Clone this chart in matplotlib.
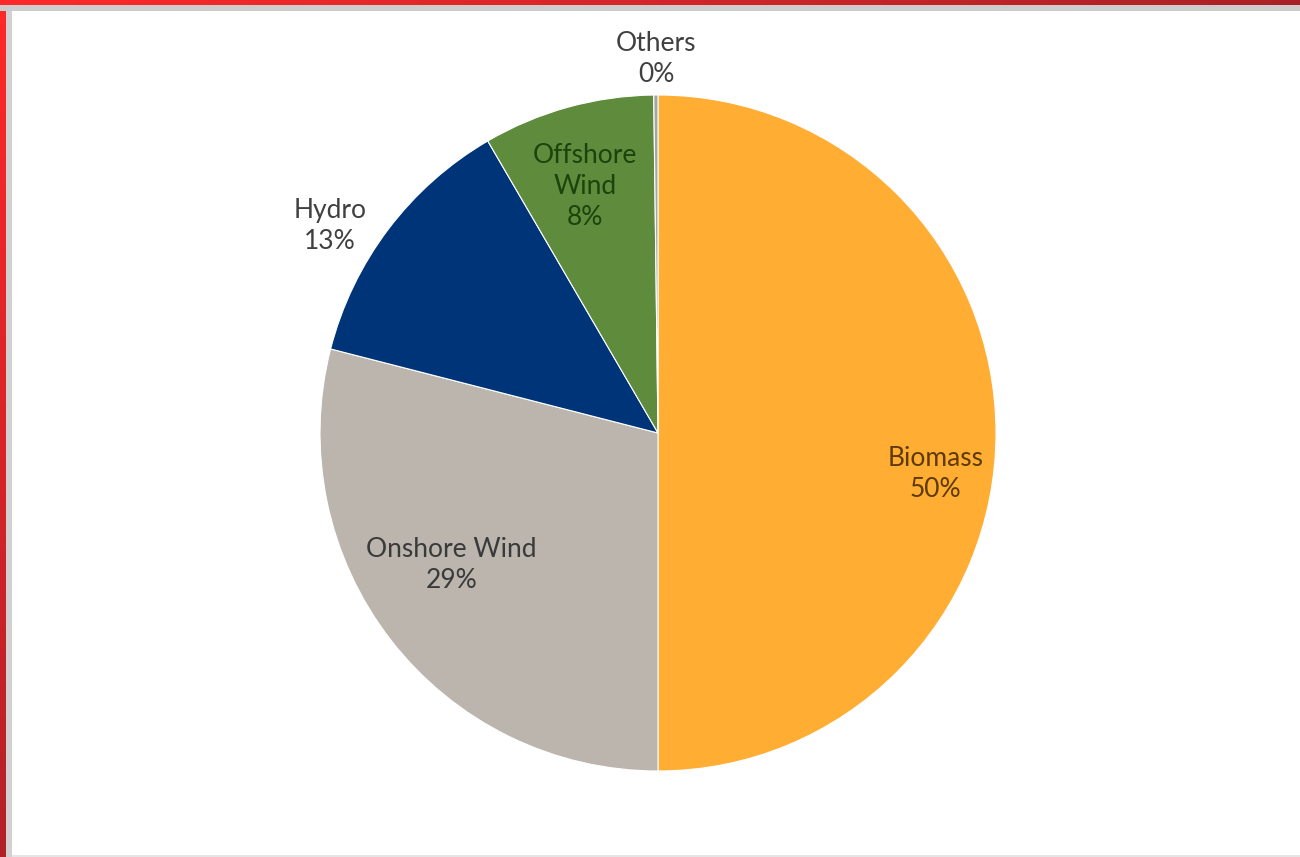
import matplotlib
matplotlib.use('Agg')
import matplotlib.pyplot as plt
import numpy as np

# Datos del grafico (porcentaje por fuente)
labels = ['Biomass', 'Onshore Wind', 'Hydro', 'Offshore\nWind', 'Others']
values = [50.0, 29.0, 12.6, 8.2, 0.2]
colors = ['#FFAD33', '#BBB5AD', '#003478', '#5E8C3C', '#A5A5A5']
text_colors = ['#5E3A00', '#3A3A3A', '#404040', '#1A440C', '#404040']
# posiciones de las etiquetas en coordenadas del pastel (radio = 1)
label_pos = [(0.822, -0.12), (-0.612, -0.39), (-0.970, 0.612),
             (-0.216, 0.728), (-0.006, 1.107)]

W, H = 1300, 857
fig = plt.figure(figsize=(W / 100, H / 100), dpi=100)
fig.patch.set_facecolor('white')

# Marco rojo con degradado (izquierda y arriba) + linea gris
red_a = np.array([1.0, 0.16, 0.16])
red_b = np.array([0.66, 0.13, 0.15])
t = np.linspace(0, 1, W)[None, :, None]
top = np.repeat(red_a * (1 - t) + red_b * t, 5, axis=0)
gray_top = np.ones((6, W, 3)) * 0.80
fig.figimage(np.concatenate([top, gray_top], axis=0), xo=0, yo=H - 11,
             origin='upper', zorder=3)
t = np.linspace(0, 1, H)[:, None, None]
left = np.repeat(red_a * (1 - t) + np.array([0.70, 0.13, 0.16]) * t, 6, axis=1)
gray_left = np.ones((H, 6, 3)) * 0.82
fig.figimage(np.concatenate([left, gray_left], axis=1), xo=0, yo=0,
             origin='upper', zorder=2)
fig.figimage(np.ones((2, W, 3)) * 0.90, xo=12, yo=0, zorder=1)

# Pastel: centro (658, 433) px, radio 338 px
cx, cy, r = 658, 433, 338
ax = fig.add_axes([(cx - r) / W, (H - cy - r) / H, 2 * r / W, 2 * r / H])
ax.pie(values, colors=colors, startangle=90, counterclock=False,
       wedgeprops=dict(edgecolor='white', linewidth=0.8))
ax.set_xlim(-1, 1)
ax.set_ylim(-1, 1)
ax.set_aspect('auto')
ax.axis('off')

for lab, v, (x, y), tc in zip(labels, values, label_pos, text_colors):
    ax.text(x, y, f'{lab}\n{round(v):.0f}%', ha='center', va='center',
            fontsize=19, family='Lato', color=tc, linespacing=1.3)

fig.savefig('out.png', dpi=100)
